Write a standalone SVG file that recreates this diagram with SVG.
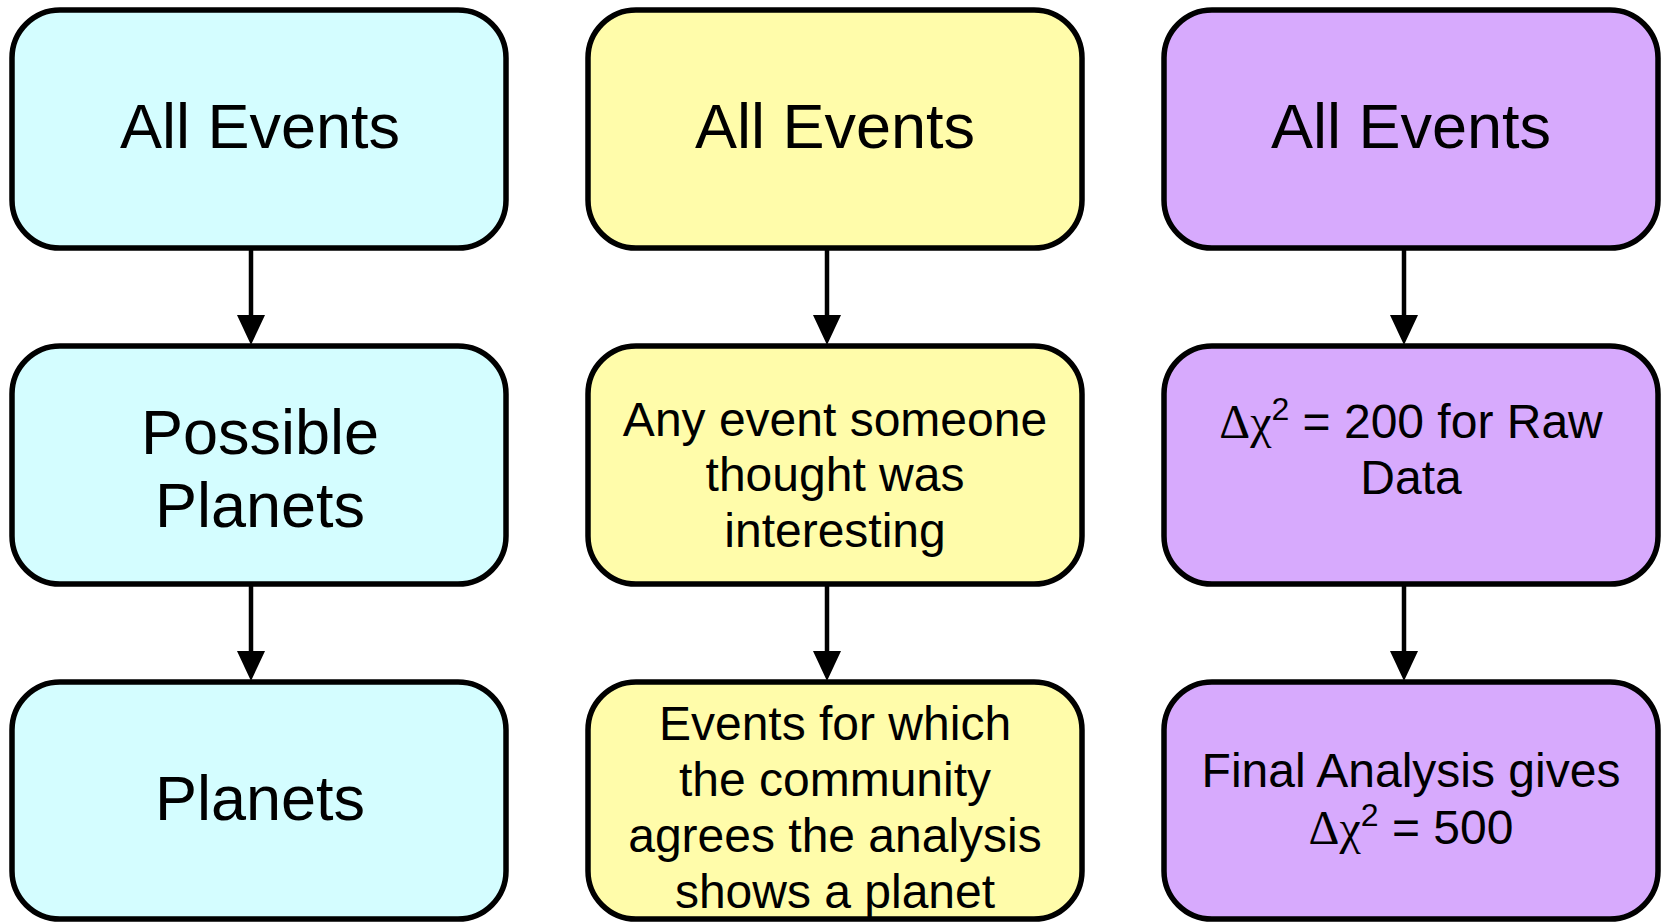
<svg xmlns="http://www.w3.org/2000/svg" width="1664" height="922" viewBox="0 0 1664 922">
<style>
.box{stroke:#000;stroke-width:5.5}
.c{fill:#D4FDFF}
.y{fill:#FFFCAA}
.p{fill:#D7AAFD}
text{font-family:"Liberation Sans",Arial,sans-serif;text-anchor:middle;fill:#000}
.big{font-size:63px}
.mid{font-size:48px}
.g{font-family:"Liberation Serif","Times New Roman",serif}
.edge{stroke:#000;stroke-width:4.5;fill:none}
</style>
<defs>
<marker id="ah" markerUnits="userSpaceOnUse" viewBox="0 0 30 28" refX="0" refY="14" markerWidth="30" markerHeight="28" orient="auto">
<path d="M0,0 L30,14 L0,28 z" fill="#000"/>
</marker>
</defs>
<g id="connectors">
<path class="edge" d="M251,250 V315" marker-end="url(#ah)"/>
<path class="edge" d="M251,586 V651" marker-end="url(#ah)"/>
<path class="edge" d="M827,250 V315" marker-end="url(#ah)"/>
<path class="edge" d="M827,586 V651" marker-end="url(#ah)"/>
<path class="edge" d="M1404,250 V315" marker-end="url(#ah)"/>
<path class="edge" d="M1404,586 V651" marker-end="url(#ah)"/>
</g>
<g id="n1">
<rect class="box c" x="12" y="10" width="494" height="238" rx="48"/>
<text class="big" x="260" y="148">All Events</text>
</g>
<g id="n2">
<rect class="box c" x="12" y="346" width="494" height="238" rx="48"/>
<text class="big" x="260" y="454">Possible</text>
<text class="big" x="260" y="527">Planets</text>
</g>
<g id="n3">
<rect class="box c" x="12" y="682" width="494" height="237" rx="48"/>
<text class="big" x="260" y="820">Planets</text>
</g>
<g id="n4">
<rect class="box y" x="588" y="10" width="494" height="238" rx="48"/>
<text class="big" x="835" y="148">All Events</text>
</g>
<g id="n5">
<rect class="box y" x="588" y="346" width="494" height="238" rx="48"/>
<text class="mid" x="835" y="436">Any event someone</text>
<text class="mid" x="835" y="491">thought was</text>
<text class="mid" x="835" y="547">interesting</text>
</g>
<g id="n6">
<rect class="box y" x="588" y="682" width="494" height="237" rx="48"/>
<text class="mid" x="835" y="740">Events for which</text>
<text class="mid" x="835" y="796">the community</text>
<text class="mid" x="835" y="852">agrees the analysis</text>
<text class="mid" x="835" y="908">shows a planet</text>
</g>
<g id="n7">
<rect class="box p" x="1164" y="10" width="494" height="238" rx="48"/>
<text class="big" x="1411" y="148">All Events</text>
</g>
<g id="n8">
<rect class="box p" x="1164" y="346" width="494" height="238" rx="48"/>
<text class="mid" x="1411" y="438"><tspan class="g">Δχ</tspan><tspan font-size="32" dy="-18">2</tspan><tspan dy="18"> = 200 for Raw</tspan></text>
<text class="mid" x="1411" y="494">Data</text>
</g>
<g id="n9">
<rect class="box p" x="1164" y="682" width="494" height="237" rx="48"/>
<text class="mid" x="1411" y="787">Final Analysis gives</text>
<text class="mid" x="1411" y="844"><tspan class="g">Δχ</tspan><tspan font-size="32" dy="-18">2</tspan><tspan dy="18"> = 500</tspan></text>
</g>
</svg>
